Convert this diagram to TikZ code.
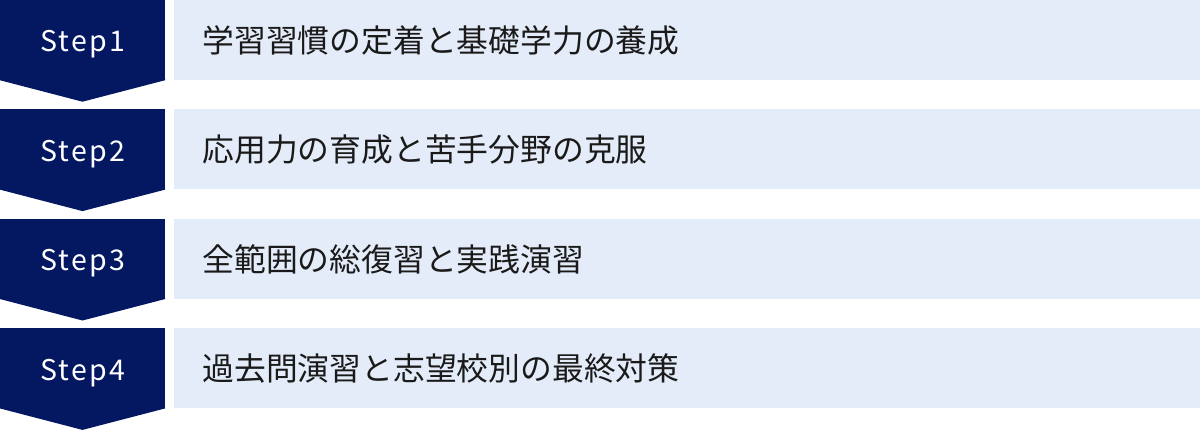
\documentclass[tikz,border=0pt]{standalone}
\usepackage{fontspec}
\setmainfont{Noto Sans CJK JP}
\usepackage{xcolor}
\usepackage{tikz}
\usetikzlibrary{positioning}
\definecolor{stepnavy}{HTML}{041862}
\definecolor{barblue}{HTML}{E5ECF9}
\definecolor{bartext}{HTML}{1A1A1A}
\tikzstyle{stepbox} = [rectangle, minimum width=165pt, minimum height=80pt, inner sep=0pt, text height=23.8pt, text depth=0pt, text centered, fill=stepnavy, text=white, font=\fontsize{28.5}{32}\selectfont\addfontfeatures{LetterSpace=8}]
\tikzstyle{bar} = [rectangle, minimum height=80pt, text width=970pt, inner xsep=28pt, inner ysep=0pt, text height=24.4pt, text depth=0pt, align=left, fill=barblue, text=bartext, font=\fontsize{31.8}{36}\selectfont]
\tikzstyle{tip} = [fill=stepnavy]

\begin{document}
\begin{tikzpicture}[x=1pt, y=1pt]
\useasboundingbox (0,0) rectangle (1200,-429);
\node (step1) [stepbox] at (82.5,-40) {Step1};
\node (bar1) [bar, right=9pt of step1] {学習習慣の定着と基礎学力の養成};
\node (step2) [stepbox, below=29pt of step1] {Step2};
\node (bar2) [bar, right=9pt of step2] {応用力の育成と苦手分野の克服};
\node (step3) [stepbox, below=29pt of step2] {Step3};
\node (bar3) [bar, right=9pt of step3] {全範囲の総復習と実践演習};
\node (step4) [stepbox, below=29pt of step3] {Step4};
\node (bar4) [bar, right=9pt of step4] {過去問演習と志望校別の最終対策};

% arrow points under the step boxes
\fill [tip] ([yshift=1pt]step1.south west) -- ([yshift=1pt]step1.south east) -- (step1.south east) -- ([yshift=-21.5pt]step1.south) -- (step1.south west) -- cycle;
\fill [tip] ([yshift=1pt]step2.south west) -- ([yshift=1pt]step2.south east) -- (step2.south east) -- ([yshift=-21.5pt]step2.south) -- (step2.south west) -- cycle;
\fill [tip] ([yshift=1pt]step3.south west) -- ([yshift=1pt]step3.south east) -- (step3.south east) -- ([yshift=-21.5pt]step3.south) -- (step3.south west) -- cycle;
\fill [tip] ([yshift=1pt]step4.south west) -- ([yshift=1pt]step4.south east) -- (step4.south east) -- ([yshift=-21.5pt]step4.south) -- (step4.south west) -- cycle;
\end{tikzpicture}
\end{document}
